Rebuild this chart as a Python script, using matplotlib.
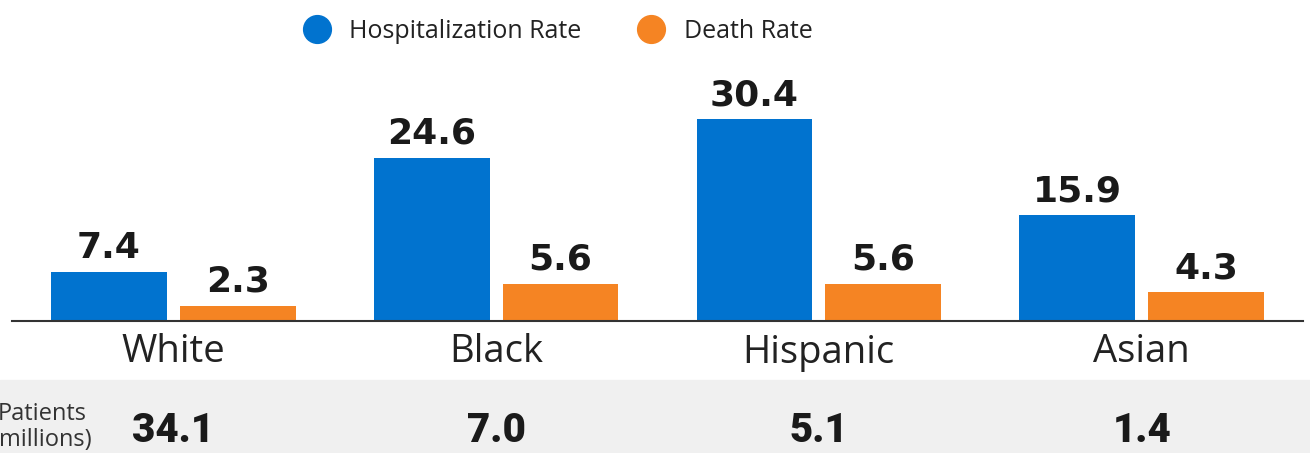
import numpy as np
import matplotlib.pyplot as plt
from matplotlib.patches import Rectangle
from matplotlib.lines import Line2D
from matplotlib.transforms import blended_transform_factory

groups = ["White", "Black", "Hispanic", "Asian"]
hosp_rate = [7.4, 24.6, 30.4, 15.9]
death_rate = [2.3, 5.6, 5.6, 4.3]
patients = ["34.1", "7.0", "5.1", "1.4"]

blue = "#0173CF"
orange = "#F58423"

W, H = 1310, 453
fig = plt.figure(figsize=(W / 100, H / 100), dpi=100)

# gray band for patient counts
fig.patches.append(Rectangle((0, 0), 1, (H - 380) / H, transform=fig.transFigure,
                             color="#f0f0f0", zorder=-1))

ax = fig.add_axes([12 / W, (H - 321) / H, (1303 - 12) / W, (321 - 60) / H])
ax.patch.set_alpha(0)

x = np.arange(len(groups))
bw = 0.359
off = bw / 2 + 0.02
b1 = ax.bar(x - off, hosp_rate, bw, color=blue)
b2 = ax.bar(x + off, death_rate, bw, color=orange)

vfont = dict(family="DejaVu Sans", fontweight="bold", fontsize=26, color="#1a1a1a")
for bars in (b1, b2):
    ax.bar_label(bars, labels=[f"{v:.1f}" for v in bars.datavalues], padding=5, **vfont)

ax.set_xlim(-0.5, 3.5)
ax.set_ylim(0, (321 - 60) / 6.64)
ax.set_yticks([])
ax.set_xticks(x)
ax.set_xticklabels(groups, family="Open Sans", fontsize=27.5, color="#222222")
ax.tick_params(axis="x", length=0, pad=9)
for s in ["top", "left", "right"]:
    ax.spines[s].set_visible(False)
ax.spines["bottom"].set_color("#333333")
ax.spines["bottom"].set_linewidth(1.5)

tr = blended_transform_factory(ax.transData, fig.transFigure)
for xi, p in zip(x, patients):
    ax.text(xi, (H - 431) / H, p, transform=tr, ha="center", va="center",
            family="Roboto", fontweight="black", fontsize=29, color="#1a1a1a")
fig.text(42 / W, (H - 427) / H, "Patients\n(millions)", ha="center", va="center",
         family="Open Sans", fontsize=17, color="#333333", linespacing=1.15)

handles = [Line2D([], [], marker="o", ls="", markersize=20, color=blue),
           Line2D([], [], marker="o", ls="", markersize=20, color=orange)]
fig.legend(handles, ["Hospitalization Rate", "Death Rate"], loc="center",
           bbox_to_anchor=(552 / W, (H - 31) / H), ncol=2, frameon=False,
           prop={"family": "Open Sans", "size": 18}, handletextpad=0.3,
           columnspacing=1.8, labelcolor="#222222")

fig.savefig("out.png", dpi=100)
